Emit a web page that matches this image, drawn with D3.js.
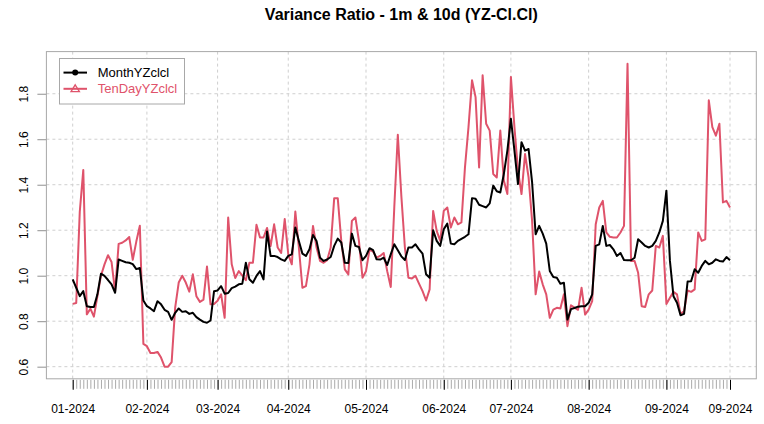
<!DOCTYPE html>
<html><head><meta charset="utf-8">
<script src="https://cdn.jsdelivr.net/npm/d3@7"></script>
<style>body{margin:0;background:#fff}svg{display:block;font-family:"Liberation Sans",Arial,sans-serif}</style>
</head><body><svg id="c" width="764" height="424"></svg>
<script>
const title = "Variance Ratio - 1m & 10d (YZ-Cl.Cl)";
const seriesNames = ["MonthYZclcl", "TenDayYZclcl"];
const monthYZclcl = [
0.984,0.947,0.91,0.932,0.866,0.862,0.862,0.918,1.009,0.999,
0.981,0.962,0.925,1.071,1.065,1.059,1.057,1.051,1.029,1.034,
0.891,0.866,0.856,0.844,0.888,0.874,0.85,0.841,0.806,0.837,
0.856,0.841,0.844,0.832,0.837,0.818,0.807,0.797,0.793,0.803,
0.932,0.935,0.954,0.921,0.924,0.945,0.952,0.962,0.965,1.057,
0.984,0.969,0.999,1.02,0.984,1.194,1.087,1.087,1.082,1.072,
1.065,1.087,1.094,1.212,1.153,1.097,1.087,1.116,1.179,1.153,
1.079,1.065,1.071,1.082,1.131,1.163,1.146,1.057,1.056,1.185,
1.131,1.126,1.068,1.087,1.121,1.112,1.072,1.071,1.079,1.047,
1.094,1.138,1.112,1.085,1.069,1.124,1.124,1.138,1.116,1.097,
1.006,0.991,1.2,1.153,1.131,1.204,1.229,1.141,1.138,1.153,
1.162,1.171,1.182,1.341,1.338,1.312,1.306,1.3,1.318,1.396,
1.371,1.366,1.447,1.55,1.69,1.55,1.403,1.587,1.55,1.557,
1.41,1.182,1.219,1.185,1.141,1.021,0.994,0.991,0.965,0.969,
0.807,0.853,0.858,0.864,0.866,0.866,0.881,0.918,1.131,1.138,
1.219,1.131,1.135,1.116,1.087,1.1,1.069,1.068,1.068,1.079,
1.16,1.146,1.131,1.124,1.131,1.153,1.19,1.241,1.374,1.065,
0.91,0.881,0.826,0.832,0.974,0.976,1.028,1.013,1.043,1.065,
1.05,1.057,1.072,1.065,1.062,1.082,1.068];
const tenDayYZclcl = [
0.876,0.88,1.28,1.465,0.83,0.855,0.82,0.91,1.0,1.05,
1.09,1.06,0.93,1.14,1.145,1.155,1.17,1.07,1.15,1.22,
0.70,0.69,0.66,0.66,0.665,0.64,0.60,0.60,0.62,0.86,
0.97,1.0,0.97,0.93,1.006,0.91,0.885,0.895,1.04,0.874,
0.876,0.89,0.918,0.815,1.256,1.05,0.99,1.02,1.0,0.98,
1.057,1.057,1.224,1.168,1.168,1.21,1.13,1.226,1.124,1.1,
1.249,1.094,1.05,1.282,1.124,0.947,0.954,1.05,1.219,1.124,
1.065,1.057,1.068,1.124,1.341,1.341,1.153,1.028,1.006,1.241,
1.256,1.153,0.991,1.02,1.116,1.106,1.079,1.087,1.1,1.02,
0.95,1.3,1.62,1.35,1.124,0.991,0.988,0.999,0.965,0.932,
0.891,0.94,1.285,1.197,1.153,1.285,1.3,1.212,1.256,1.226,
1.234,1.476,1.653,1.859,1.785,1.476,1.881,1.668,1.638,1.447,
1.432,1.638,1.418,1.359,1.874,1.653,1.462,1.359,1.535,1.432,
1.241,0.918,1.018,0.962,0.918,0.815,0.851,0.859,0.856,0.918,
0.778,0.87,0.86,0.85,0.947,0.829,0.851,0.888,1.226,1.3,
1.329,1.19,1.171,1.168,1.168,1.19,1.219,1.932,1.065,1.065,
1.013,0.866,0.862,0.918,0.935,1.131,1.124,1.175,0.876,0.903,
0.929,0.918,0.832,0.844,0.935,0.929,0.94,1.19,1.153,1.16,
1.771,1.653,1.616,1.668,1.322,1.329,1.3];
const monthTickObs = [0,21,41,61,83,105,124,146,168,186];
const monthTickLabels = ["01-2024","02-2024","03-2024","04-2024","05-2024","06-2024","07-2024","08-2024","09-2024","09-2024"];
const yTicks = [0.6,0.8,1.0,1.2,1.4,1.6,1.8];

const svg = d3.select("#c");
const n = monthYZclcl.length;
const all = monthYZclcl.concat(tenDayYZclcl);
const ymin = d3.min(all), ymax = d3.max(all);
const yPad = (ymax-ymin)*0.04, xPad = (n-1)*0.04;
const L=46.4, R=756.3, T=51.6, B=378.8;
const x = d3.scaleLinear().domain([-xPad, n-1+xPad]).range([L,R]);
const y = d3.scaleLinear().domain([ymin-yPad, ymax+yPad]).range([B,T]);
const red = "#DF536B";

// title
svg.append("text").attr("x",(L+R)/2).attr("y",19.5).attr("text-anchor","middle")
  .attr("font-weight","bold").attr("font-size",16).attr("fill","#000").text(title);

// grid
const g = svg.append("g");
g.selectAll("line.hg").data(yTicks).join("line")
  .attr("x1",L).attr("x2",R).attr("y1",d=>y(d)).attr("y2",d=>y(d))
  .attr("stroke","#cfcfcf").attr("stroke-dasharray","3,3");
g.selectAll("line.vg").data(monthTickObs).join("line")
  .attr("x1",d=>x(d)).attr("x2",d=>x(d)).attr("y1",T).attr("y2",B)
  .attr("stroke","#cfcfcf").attr("stroke-dasharray","3,3");

// x axis minor ticks
const idx = d3.range(n);
const axMinor = d3.axisBottom(x).tickValues(idx).tickSize(9).tickFormat("");
const gxm = svg.append("g").attr("transform",`translate(0,${B+1})`).call(axMinor);
gxm.select(".domain").remove();
gxm.selectAll(".tick line").attr("stroke","#aaaaaa").attr("stroke-width",1);
const axMajor = d3.axisBottom(x).tickValues(monthTickObs).tickSize(10)
  .tickFormat((d,i)=>monthTickLabels[i]);
const gx = svg.append("g").attr("transform",`translate(0,${B+1})`).call(axMajor);
gx.select(".domain").remove();
gx.selectAll(".tick line").attr("stroke","#000");
gx.selectAll(".tick text").attr("font-size",12).attr("fill","#000")
  .attr("font-family","Liberation Sans, Arial, sans-serif").attr("dy",0).attr("y",33);

// y axis
const ay = d3.axisLeft(y).tickValues(yTicks).tickSize(9).tickFormat(d3.format(".1f"));
const gy = svg.append("g").attr("transform",`translate(${L},0)`).call(ay);
gy.select(".domain").remove();
gy.selectAll(".tick line").attr("stroke","#909090");
gy.selectAll(".tick text").attr("font-size",12).attr("fill","#000")
  .attr("font-family","Liberation Sans, Arial, sans-serif")
  .attr("transform","rotate(-90)").attr("x",0).attr("y",-23).attr("dy","0.35em").attr("text-anchor","middle");

// lines
const line = d3.line().x((d,i)=>x(i)).y(d=>y(d));
svg.append("path").datum(tenDayYZclcl).attr("d",line).attr("fill","none")
  .attr("stroke",red).attr("stroke-width",2).attr("stroke-linejoin","round");
svg.append("path").datum(monthYZclcl).attr("d",line).attr("fill","none")
  .attr("stroke","#000").attr("stroke-width",2).attr("stroke-linejoin","round");

// box
svg.append("rect").attr("x",L).attr("y",T).attr("width",R-L).attr("height",B-T)
  .attr("fill","none").attr("stroke","#a8a8a8").attr("stroke-width",1);

// legend
const lg = svg.append("g");
lg.append("rect").attr("x",59.5).attr("y",58.5).attr("width",125).attr("height",45.5)
  .attr("fill","#fff").attr("stroke","#a8a8a8");
const cols = ["#000", red];
seriesNames.forEach((s,i)=>{
  const yy = 72.6 + i*16.2;
  lg.append("line").attr("x1",63.5).attr("x2",87).attr("y1",yy).attr("y2",yy)
    .attr("stroke",cols[i]).attr("stroke-width",2);
  if(i===0){
    lg.append("circle").attr("cx",75.2).attr("cy",yy).attr("r",3).attr("fill",cols[i]);
  } else {
    lg.append("path").attr("d",`M75.2,${yy-4} L79.4,${yy+2.8} L71,${yy+2.8} Z`)
      .attr("fill","none").attr("stroke",cols[i]).attr("stroke-width",1.3);
  }
  lg.append("text").attr("x",97.7).attr("y",yy).attr("dy","0.35em").attr("font-size",13)
    .attr("fill",cols[i]).text(s);
});
</script></body></html>
